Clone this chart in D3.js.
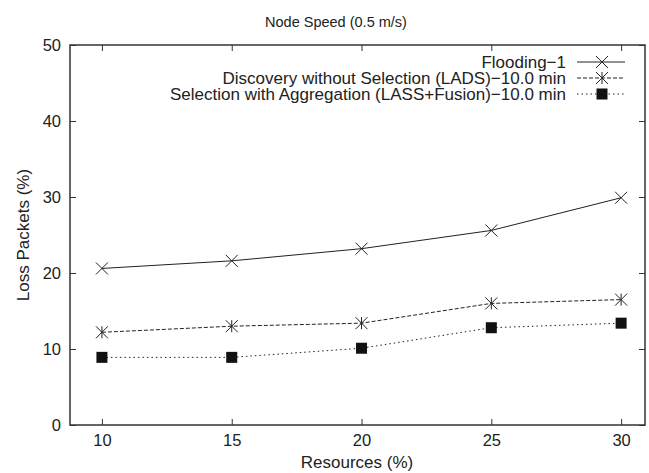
<!DOCTYPE html>
<meta charset="utf-8">
<style>
body { margin: 0; background: #fff; }
text { font-family: "Liberation Sans", Arial, sans-serif; fill: #222; }
.frame { fill: none; stroke: #333; stroke-width: 1.5; }
.tick line { stroke: #333; }
</style>
<svg width="649" height="473"></svg>
<script src="https://cdn.jsdelivr.net/npm/d3@7"></script>
<script>
var resources = [10, 15, 20, 25, 30];
var flooding = [20.6, 21.6, 23.2, 25.6, 29.9];
var lads = [12.2, 13.0, 13.4, 16.0, 16.5];
var lass = [8.9, 8.9, 10.1, 12.8, 13.4];
var seriesNames = ["Flooding\u22121",
  "Discovery without Selection (LADS)\u221210.0 min",
  "Selection with Aggregation (LASS+Fusion)\u221210.0 min"];
var yTicks = [0, 10, 20, 30, 40, 50];

var svg = d3.select("svg"),
    margin = {top: 45, right: 4, bottom: 48, left: 70},
    width = +svg.attr("width") - margin.left - margin.right,
    height = +svg.attr("height") - margin.top - margin.bottom;

var x = d3.scaleLinear().domain([8.77, 30.92]).range([0, width]),
    y = d3.scaleLinear().domain([0, 50]).range([height, 0]);

var g = svg.append("g")
    .attr("transform", "translate(" + margin.left + "," + margin.top + ")");

// axes with inward ticks, mirrored
function styleAxis(sel) {
  sel.select(".domain").remove();
  sel.selectAll("text").style("font-size", "16.5px").attr("fill", "#222");
}
g.append("g").attr("transform", "translate(0," + height + ")")
  .call(d3.axisBottom(x).tickValues(resources).tickSize(-6).tickPadding(9).tickFormat(d3.format("d")))
  .call(styleAxis);
g.append("g")
  .call(d3.axisTop(x).tickValues(resources).tickSize(-6).tickFormat(""))
  .call(styleAxis);
g.append("g")
  .call(d3.axisLeft(y).tickValues(yTicks).tickSize(-6).tickPadding(9))
  .call(styleAxis);
g.append("g").attr("transform", "translate(" + width + ",0)")
  .call(d3.axisRight(y).tickValues(yTicks).tickSize(-6).tickFormat(""))
  .call(styleAxis);

g.append("rect").attr("class", "frame").attr("width", width).attr("height", height);

var series = [
  {name: seriesNames[0], values: flooding, dash: null, marker: "x"},
  {name: seriesNames[1], values: lads, dash: "4,2", marker: "star"},
  {name: seriesNames[2], values: lass, dash: "1.5,3", marker: "square"}
];

var line = d3.line()
  .x(function(d, i) { return x(resources[i]); })
  .y(function(d) { return y(d); });

function drawMarker(sel, type, cx, cy) {
  var r = 6;
  if (type === "square") {
    sel.append("rect").attr("x", cx - 5.5).attr("y", cy - 5.5)
      .attr("width", 11).attr("height", 11).attr("fill", "#111");
    return;
  }
  var p = "M" + (cx - r) + "," + (cy - r) + "L" + (cx + r) + "," + (cy + r) +
          "M" + (cx - r) + "," + (cy + r) + "L" + (cx + r) + "," + (cy - r);
  if (type === "star") p += "M" + cx + "," + (cy - r) + "L" + cx + "," + (cy + r);
  sel.append("path").attr("d", p).attr("stroke", "#222").attr("stroke-width", 1).attr("fill", "none");
}

series.forEach(function(s) {
  g.append("path").datum(s.values)
    .attr("d", line)
    .attr("fill", "none")
    .attr("stroke", "#222")
    .attr("stroke-width", 1)
    .attr("stroke-dasharray", s.dash);
  s.values.forEach(function(v, i) {
    drawMarker(g, s.marker, x(resources[i]), y(v));
  });
});

// legend
var legend = g.append("g");
series.forEach(function(s, i) {
  var ly = 17 + i * 16;
  legend.append("text").attr("x", 496).attr("y", ly).attr("dy", "0.35em")
    .attr("text-anchor", "end").style("font-size", "17px").text(s.name);
  legend.append("line").attr("x1", 507).attr("x2", 555).attr("y1", ly).attr("y2", ly)
    .attr("stroke", "#222").attr("stroke-width", 1).attr("stroke-dasharray", s.dash);
  drawMarker(legend, s.marker, 532, ly);
});

svg.append("text").attr("x", 336).attr("y", 22).attr("dy", "0.35em")
  .attr("text-anchor", "middle").style("font-size", "14.5px").text("Node Speed (0.5 m/s)");
svg.append("text").attr("x", 357).attr("y", 462).attr("dy", "0.35em")
  .attr("text-anchor", "middle").style("font-size", "17px").text("Resources (%)");
svg.append("text").attr("transform", "translate(23," + (margin.top + height / 2) + ") rotate(-90)")
  .attr("dy", "0.35em").attr("text-anchor", "middle").style("font-size", "17px").text("Loss Packets (%)");
</script>
